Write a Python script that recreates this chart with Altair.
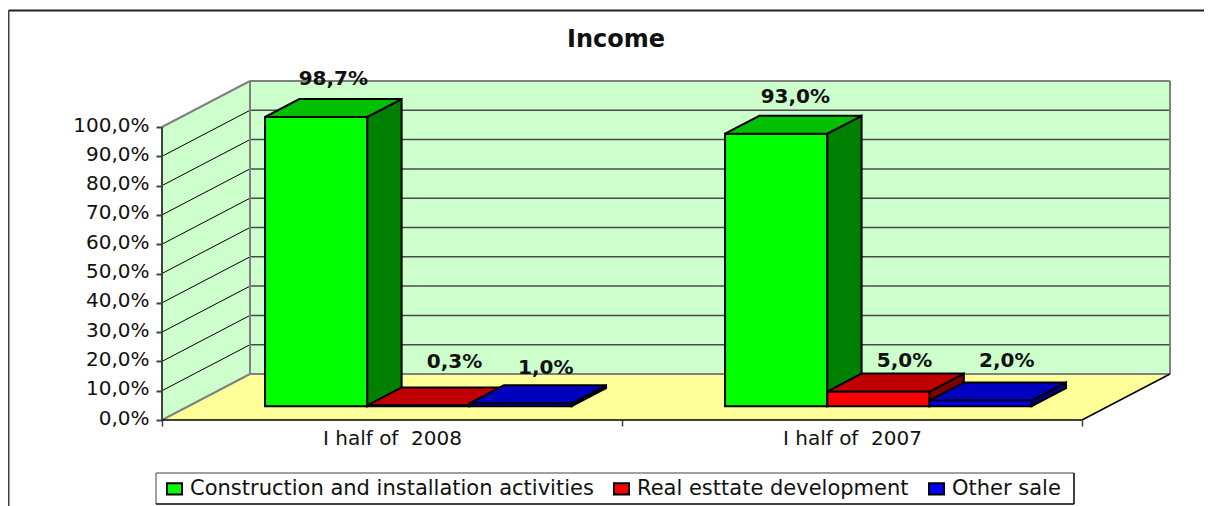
import altair as alt
import pandas as pd

# ---- values ----
CATEGORIES = ["I half of \u00a02008", "I half of \u00a02007"]
SERIES = ["Construction and installation activities", "Real esttate development", "Other sale"]
VALUES = {
    SERIES[0]: [98.7, 93.0],
    SERIES[1]: [0.3, 5.0],
    SERIES[2]: [1.0, 2.0],
}
TITLE = "Income"
Y_TICKS = [0, 10, 20, 30, 40, 50, 60, 70, 80, 90, 100]
FRONT = ["#00FF00", "#FF0000", "#0000FF"]
TOP = ["#00C000", "#C00000", "#0000C0"]
SIDE = ["#008000", "#800000", "#000080"]
# label nudges, in pixels, from the back edge of each bar's top (per series, per category)
LABEL_NUDGE_X = [[0, 2], [19, 9], [8, 9]]
LABEL_NUDGE_Y = [[20, 19], [25, 13], [17, 21]]

FONT = "DejaVu Sans"
PX_X = 460.0          # pixels per category
PX_Y = 2.93           # pixels per percent
DEPTH_X = 88 / PX_X   # floor depth in x units
DEPTH_Y = 46 / PX_Y   # floor depth in y units
D0, D1 = 0.30, 0.69   # bar depth range
BAR = 1 / 4.5
W, H = 1008, 340


def face(rows, fid, tone, pts):
    for x, y, y2 in pts:
        rows.append({"face": fid, "tone": tone, "x": x, "y": y, "y2": y2})


bars, labels = [], []
for g, cat in enumerate(CATEGORIES):
    for s, name in enumerate(SERIES):
        v = VALUES[name][g]
        x0 = g + 0.75 * BAR + s * BAR + D0 * DEPTH_X
        x1 = x0 + BAR
        base = D0 * DEPTH_Y
        dx = (D1 - D0) * DEPTH_X
        dy = (D1 - D0) * DEPTH_Y
        top = base + v
        fid = f"{g}-{s}-"
        face(bars, fid + "a", name, [(x0, base, top), (x1, base, top)])
        face(bars, fid + "b", name + " side",
             [(x1, base, top), (x1 + dx, base + dy, top + dy)])
        face(bars, fid + "c", name + " top",
             [(x0, top, top), (x0 + dx, top, top + dy), (x1, top, top + dy), (x1 + dx, top + dy, top + dy)])
        labels.append({
            "x": (x0 + x1) / 2 + dx / 2 + LABEL_NUDGE_X[s][g] / PX_X,
            "y": top + dy + LABEL_NUDGE_Y[s][g] / PX_Y,
            "t": f"{v:.1f}".replace(".", ",") + "%",
        })

n_cat = len(CATEGORIES)
x_scale = alt.Scale(domain=[0, n_cat + DEPTH_X], nice=False, zero=False, padding=0)
y_scale = alt.Scale(domain=[0, H / PX_Y], nice=False, zero=False, padding=0)

x_vals = [i / 2 for i in range(2 * n_cat + 1)]
x_expr = "+".join(
    f"(datum.value=={i + 0.5}?'{c}':'')" for i, c in enumerate(CATEGORIES)
)
X = alt.X("x:Q", scale=x_scale, axis=alt.Axis(
    values=x_vals, title=None, domain=False, grid=False, tickSize=6, tickColor="#404040",
    tickWidth=1.5, labelPadding=2, labelFont=FONT, labelFontSize=20, labelColor="#111111",
    labelAngle=0, labelExpr=x_expr, labelOverlap=False,
    tickOpacity={"condition": {"test": "datum.value % 1 == 0", "value": 1}, "value": 0},
))
Y = alt.Y("y:Q", scale=y_scale, axis=alt.Axis(
    values=Y_TICKS, title=None, domain=False, grid=False, tickSize=6, tickColor="#404040",
    tickWidth=2, labelPadding=7, labelOffset=-2, labelFont=FONT, labelFontSize=20, labelColor="#111111",
    labelExpr="replace(format(datum.value,'.1f'),'.',',')+'%'",
))
Y2 = alt.Y2("y2:Q")


def wall(pts, fill):
    df = pd.DataFrame([{"x": a, "y": b, "y2": c} for a, b, c in pts])
    return alt.Chart(df).mark_area(fill=fill, stroke=None, interpolate="linear").encode(X, Y, Y2)


side_wall = wall([(0, 0, 100), (DEPTH_X, DEPTH_Y, 100 + DEPTH_Y)], "#CCFFCC")
back_wall = wall([(DEPTH_X, DEPTH_Y, 100 + DEPTH_Y), (n_cat + DEPTH_X, DEPTH_Y, 100 + DEPTH_Y)], "#CCFFCC")
floor = wall([(0, 0, 0), (DEPTH_X, 0, DEPTH_Y), (n_cat, 0, DEPTH_Y), (n_cat + DEPTH_X, DEPTH_Y, DEPTH_Y)], "#FFFF99")


def segs(items):
    rows = []
    for i, pts in enumerate(items):
        for p in pts:
            rows.append({"seg": i, "x": p[0], "y": p[1]})
    return pd.DataFrame(rows)


def lines(items, color, width):
    return alt.Chart(segs(items)).mark_line(color=color, strokeWidth=width, interpolate="linear").encode(
        X, Y, detail="seg:N")


grid_side = lines([[(0, v), (DEPTH_X, v + DEPTH_Y)] for v in Y_TICKS[1:-1]], "#000000", 1)
grid_back = lines([[(DEPTH_X, v + DEPTH_Y), (n_cat + DEPTH_X, v + DEPTH_Y)] for v in Y_TICKS[1:-1]], "#4A4A4A", 1.5)
border = lines([
    [(0, 100), (DEPTH_X, 100 + DEPTH_Y)],
    [(DEPTH_X, 100 + DEPTH_Y), (n_cat + DEPTH_X, 100 + DEPTH_Y)],
    [(n_cat + DEPTH_X, DEPTH_Y), (n_cat + DEPTH_X, 100 + DEPTH_Y)],
    [(DEPTH_X, DEPTH_Y), (DEPTH_X, 100 + DEPTH_Y)],
    [(DEPTH_X, DEPTH_Y), (n_cat + DEPTH_X, DEPTH_Y)],
    [(0, 0), (DEPTH_X, DEPTH_Y)],
], "#808080", 2)
front_edge = lines([[(0, 0), (n_cat, 0)], [(n_cat, 0), (n_cat + DEPTH_X, DEPTH_Y)]], "#000000", 1.5)
y_line = lines([[(0, 0), (0, 100)]], "#404040", 2)

tones = SERIES + [s + " top" for s in SERIES] + [s + " side" for s in SERIES]
tone_range = FRONT + TOP + SIDE

bar_layer = alt.Chart(pd.DataFrame(bars)).mark_area(
    stroke="#000000", strokeWidth=2, strokeJoin="miter", interpolate="linear"
).encode(
    X, Y, Y2,
    detail="face:N",
    fill=alt.Fill(
        "tone:N",
        scale=alt.Scale(domain=tones, range=tone_range),
        legend=alt.Legend(
            title=None, values=SERIES, orient="none", legendX=-6, legendY=393,
            direction="horizontal", columns=3, columnPadding=14, padding=5,
            symbolType="M-1,-0.75H1V0.75H-1Z", symbolSize=225, symbolStrokeColor="#000000",
            symbolStrokeWidth=2, symbolOffset=3, labelOffset=5, labelFont=FONT,
            labelFontSize=21, labelColor="#111111", labelLimit=500,
        ),
    ),
)

text_layer = alt.Chart(pd.DataFrame(labels)).mark_text(
    font=FONT, fontSize=20, fontWeight="bold", color="#111111", baseline="middle"
).encode(X, Y, text="t:N")


def rule(x, x2, y, y2, color, width):
    return alt.Chart(pd.DataFrame({"a": [0]})).mark_rule(color=color, strokeWidth=width).encode(
        x=alt.value(x), x2=alt.value(x2), y=alt.value(y), y2=alt.value(y2))


frame = [
    rule(-153.5, 1042, -69.5, -69.5, "#222222", 2),
    rule(-153.5, -153.5, -69.5, 426, "#404040", 2),
    rule(-6, 912, 393, 393, "#808080", 1.5),
    rule(-6, -6, 393, 424, "#808080", 1.5),
    rule(-6, 912, 424, 424, "#000000", 1.5),
    rule(912, 912, 393, 424, "#000000", 1.5),
]

chart = alt.layer(
    side_wall, back_wall, floor, grid_side, grid_back, border, front_edge, y_line,
    bar_layer, text_layer, *frame,
).properties(
    width=W, height=H,
    padding={"left": 154, "top": 72, "right": 34, "bottom": 86},
    autosize=alt.AutoSizeParams(type="none"),
    title=alt.TitleParams(TITLE, font=FONT, fontSize=24, fontWeight="bold", color="#111111",
                          anchor="middle", dx=-50, offset=-42),
).configure_view(stroke=None)

chart.save("out.html", embed_options={"renderer": "svg", "actions": False})
